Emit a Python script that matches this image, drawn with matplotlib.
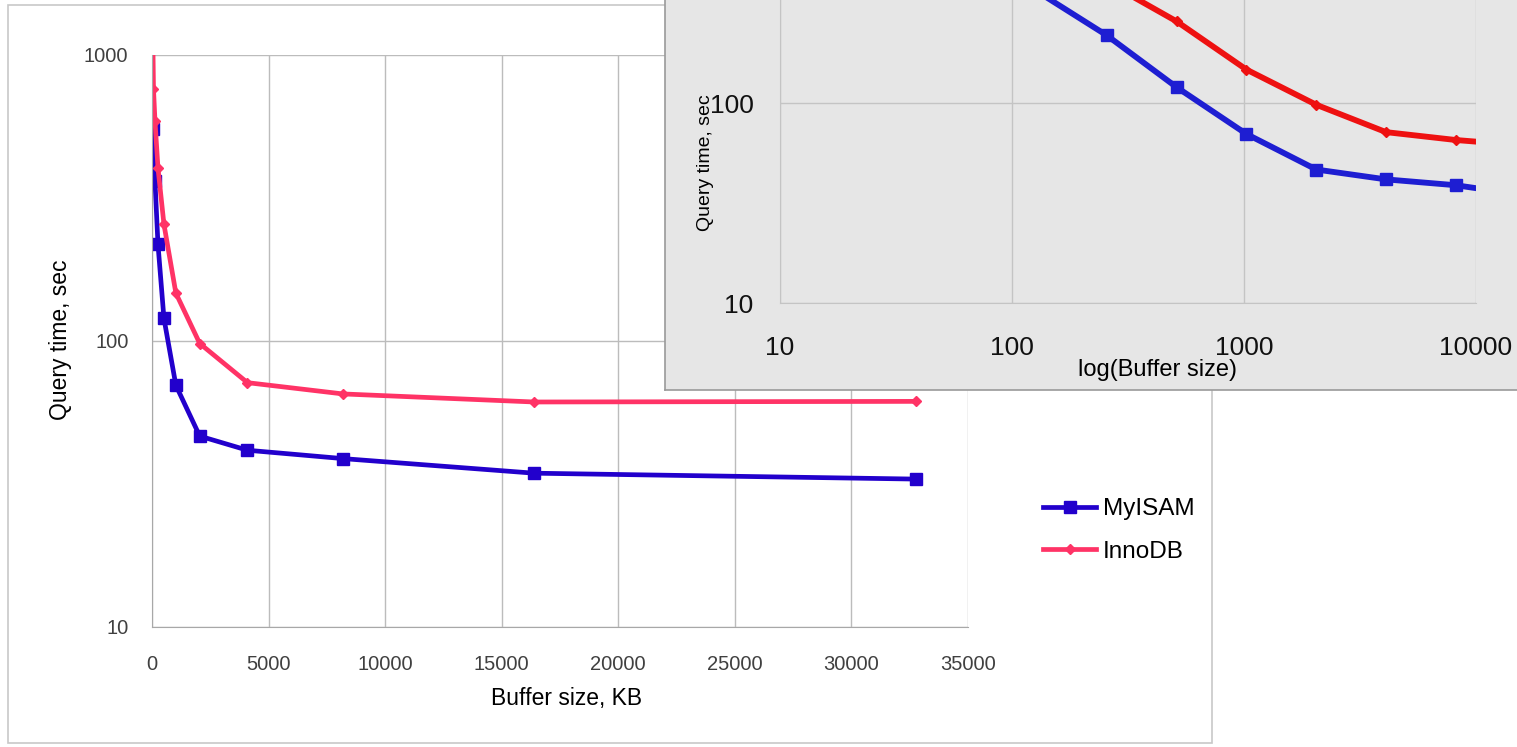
# plot.py
# buffer size vs query time, MyISAM / InnoDB, with log-log inset
import numpy as np
import matplotlib
matplotlib.use('Agg')
import matplotlib.pyplot as plt
from matplotlib.patches import Rectangle
from matplotlib.ticker import FixedLocator, FixedFormatter, NullLocator

plt.rcParams['font.family'] = ['Liberation Sans', 'DejaVu Sans']

# DATA
# -----------------------------------
myisam_kb = [64, 128, 256, 512, 1024, 2048, 4096, 8192, 16384, 32768]
myisam_sec = [551, 362, 218, 120, 70, 46.5, 41.5, 38.8, 34.5, 32.9]

innodb_kb = [32, 64, 128, 256, 512, 1024, 2048, 4096, 8192, 16384, 32768]
innodb_sec = [1200, 761, 588, 403, 256, 147, 98, 71.5, 65.3, 61.2, 61.5]

main_xticks = [0, 5000, 10000, 15000, 20000, 25000, 30000, 35000]
main_yticks = [10, 100, 1000]
inset_xticks = [10, 100, 1000, 10000]
inset_yticks = [10, 100]

# styles
# -----------------------------------
W, H = 1517, 747
blue_main = '#2200cc'
pink_main = '#ff3366'
blue_inset = '#1e1ed2'
red_inset = '#ee1111'
grid_col = '#bcbcbc'
spine_col = '#a8a8a8'


def px_box(x0, y0, x1, y1):
    # pixel box (top-left origin) -> figure fraction [l, b, w, h]
    return [x0 / W, (H - y1) / H, (x1 - x0) / W, (y1 - y0) / H]


fig = plt.figure(figsize=(W / 100, H / 100), dpi=100)
fig.patch.set_facecolor('white')

# outer frame of the main chart
fig.patches.append(Rectangle((8 / W, (H - 743) / H), 1204 / W, 738 / H,
                             transform=fig.transFigure, fill=False,
                             edgecolor='#c8c8c8', linewidth=1.2, zorder=0))

# main chart
# -----------------------------------
ax = fig.add_axes(px_box(152, 55, 968, 627))
ax.set_zorder(1)
ax.set_yscale('log')
ax.set_xlim(0, 35000)
ax.set_ylim(10, 1000)
l1, = ax.plot(myisam_kb, myisam_sec, '-s', color=blue_main, linewidth=3.4,
              markersize=9, label='MyISAM')
l2, = ax.plot(innodb_kb, innodb_sec, '-D', color=pink_main, linewidth=3.4,
              markersize=5.5, label='InnoDB')
ax.xaxis.set_major_locator(FixedLocator(main_xticks))
ax.xaxis.set_major_formatter(FixedFormatter([str(t) for t in main_xticks]))
ax.yaxis.set_major_locator(FixedLocator(main_yticks))
ax.yaxis.set_major_formatter(FixedFormatter([str(t) for t in main_yticks]))
ax.yaxis.set_minor_locator(NullLocator())
ax.tick_params(axis='both', length=0, labelsize=14.5, labelcolor='#404040')
ax.tick_params(axis='x', pad=20)
ax.tick_params(axis='y', pad=17)
ax.grid(True, color=grid_col, linewidth=1)
ax.set_axisbelow(True)
for side in ['top', 'right']:
    ax.spines[side].set_visible(False)
for side in ['left', 'bottom']:
    ax.spines[side].set_color(spine_col)
ax.set_xlabel('Buffer size, KB', fontsize=16.5)
ax.set_ylabel('Query time, sec', fontsize=16.5)
ax.xaxis.set_label_coords((567 - 152) / 816, (627 - 698) / 572)
ax.xaxis.label.set_verticalalignment('center')
ax.yaxis.set_label_coords((60 - 152) / 816, (627 - 340) / 572)
ax.yaxis.label.set_verticalalignment('center')

leg = ax.legend(handles=[l1, l2], loc='upper left',
                bbox_to_anchor=(1043 / W, (H - 498) / H),
                bbox_transform=fig.transFigure, frameon=False, fontsize=17.5,
                handlelength=2.2, handletextpad=0.25, labelspacing=0.85,
                borderpad=0, borderaxespad=0)

# inset frame (gray box, cut by the figure edges)
# -----------------------------------
frame = fig.add_axes(px_box(665, -20, 1540, 390))
frame.set_zorder(5)
frame.set_facecolor('#e6e6e6')
frame.set_xticks([])
frame.set_yticks([])
for side in frame.spines:
    frame.spines[side].set_color('#9a9a9a')
    frame.spines[side].set_linewidth(1.2)

# inset chart (log-log)
# -----------------------------------
ins = fig.add_axes(px_box(780, -97, 1476, 303))
ins.set_zorder(6)
ins.patch.set_alpha(0)
ins.set_xscale('log')
ins.set_yscale('log')
ins.set_xlim(10, 10000)
ins.set_ylim(10, 1000)
ins.plot(myisam_kb, myisam_sec, '-s', color=blue_inset, linewidth=4.2,
         markersize=8)
ins.plot(innodb_kb, innodb_sec, '-D', color=red_inset, linewidth=4.2,
         markersize=5.5)
ins.xaxis.set_major_locator(FixedLocator(inset_xticks))
ins.xaxis.set_major_formatter(FixedFormatter([str(t) for t in inset_xticks]))
ins.yaxis.set_major_locator(FixedLocator(inset_yticks))
ins.yaxis.set_major_formatter(FixedFormatter([str(t) for t in inset_yticks]))
ins.xaxis.set_minor_locator(NullLocator())
ins.yaxis.set_minor_locator(NullLocator())
ins.tick_params(axis='both', length=0, labelsize=19, labelcolor='#111111')
ins.tick_params(axis='x', pad=24)
ins.tick_params(axis='y', pad=19)
ins.grid(True, color='#c4c4c4', linewidth=1)
ins.set_axisbelow(True)
for side in ['top', 'right']:
    ins.spines[side].set_visible(False)
for side in ['left', 'bottom']:
    ins.spines[side].set_color('#c4c4c4')
ins.set_xlabel('log(Buffer size)', fontsize=17)
ins.set_ylabel('Query time, sec', fontsize=14)
ins.xaxis.set_label_coords((1158 - 780) / 696, (303 - 370) / 400)
ins.xaxis.label.set_verticalalignment('center')
ins.yaxis.set_label_coords((705 - 780) / 696, (303 - 163) / 400)
ins.yaxis.label.set_verticalalignment('center')

fig.savefig('out.png', dpi=100)
